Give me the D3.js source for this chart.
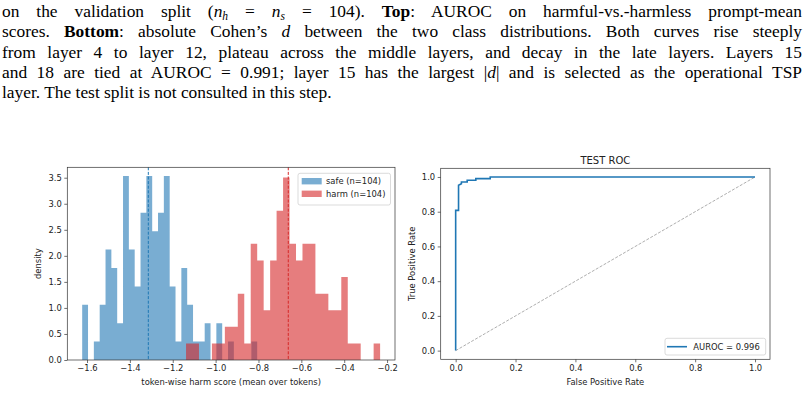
<!DOCTYPE html>
<html>
<head>
<meta charset="utf-8">
<script src="https://cdn.jsdelivr.net/npm/d3@7"></script>
<style>
  body { margin: 0; width: 805px; height: 393px; overflow: hidden; background: #fff; position: relative; }
  #caption { position: absolute; left: 2px; top: 1px; width: 800px; font-family: "Liberation Serif", "Times New Roman", serif; font-size: 17.4px; line-height: 20.3px; color: #000; }
  #caption .ln { text-align: justify; text-align-last: justify; }
  #caption .last { text-align: left; text-align-last: left; }
  #caption i { font-style: italic; }
  #caption sub { font-size: 11.5px; vertical-align: -3px; line-height: 0; }
  svg { position: absolute; left: 0; top: 0; }
  svg text { font-family: "DejaVu Sans", sans-serif; fill: #222; }
</style>
</head>
<body>
<div id="caption">
  <div class="ln">on the validation split (<i>n</i><sub><i>h</i></sub> = <i>n</i><sub><i>s</i></sub> = 104). <b>Top</b>: AUROC on harmful-vs.-harmless prompt-mean</div>
  <div class="ln">scores. <b>Bottom</b>: absolute Cohen’s <i>d</i> between the two class distributions. Both curves rise steeply</div>
  <div class="ln">from layer 4 to layer 12, plateau across the middle layers, and decay in the late layers. Layers 15</div>
  <div class="ln">and 18 are tied at AUROC = 0.991; layer 15 has the largest |<i>d</i>| and is selected as the operational TSP</div>
  <div class="ln last">layer. The test split is not consulted in this step.</div>
</div>
<div id="chart"></div>
<script>
// histogram counts per bin (30 bins each)
const safeCounts = [3,0,1,3,6,5,2,10,6,4,8,10,7,8,10,4,1,5,3,1,1,2,0,2,0,1,0,0,0,1];
const harmCounts = [1,1,0,0,1,1,2,2,4,1,7,6,3,6,9,11,7,6,7,7,4,4,3,3,5,1,1,0,0,1];
const safeRange = [-1.6225, -0.806];
const harmRange = [-1.138, -0.2325];
const safeN = 104, harmN = 104;
const safeMean = -1.314, harmMean = -0.661;
const histXTicks = [-1.6, -1.4, -1.2, -1.0, -0.8, -0.6, -0.4, -0.2];
const histYTicks = [0, 0.5, 1.0, 1.5, 2.0, 2.5, 3.0, 3.5];

// test ROC curve
const fpr = [0, 0, 0.0096, 0.0096, 0.0192, 0.0192, 0.0385, 0.0385, 0.0673, 0.0673, 0.1154, 0.1154, 1.0];
const tpr = [0, 0.8077, 0.8077, 0.9519, 0.9615, 0.9712, 0.9712, 0.9808, 0.9808, 0.9904, 0.9904, 1.0, 1.0];
const rocTicks = [0, 0.2, 0.4, 0.6, 0.8, 1.0];
const auroc = 0.996;

const blue = "#1f77b4", red = "#d62728";
const fs = 8.4;

var svg = d3.select("#chart").append("svg")
    .attr("width", 805)
    .attr("height", 393);

var fmt = d3.format(".1f");

// step outline points: one per bin left edge plus the closing right edge
function stepsOf(counts, range, n) {
  var w = (range[1] - range[0]) / counts.length;
  var pts = counts.map(function(c, i) {
    return {x: range[0] + i * w, d: c / (n * w)};
  });
  pts.push({x: range[1], d: pts[pts.length - 1].d});
  return pts;
}

function frame(g, x0, y0, x1, y1) {
  g.append("rect")
    .attr("x", x0).attr("y", y0)
    .attr("width", x1 - x0).attr("height", y1 - y0)
    .style("fill", "none").style("stroke", "#333").style("stroke-width", 0.7);
}

function styleAxis(g) {
  g.select(".domain").remove();
  g.selectAll(".tick line").style("stroke", "#333").style("stroke-width", 0.7);
  g.selectAll(".tick text").style("font-size", fs + "px").style("fill", "#222")
    .style("font-family", '"DejaVu Sans", sans-serif');
}

// ---------- left: histogram ----------
var hx = d3.scaleLinear().domain([-1.692, -0.163]).range([67.3, 395]);
var hy = d3.scaleLinear().domain([0, 3.70]).range([360, 167.3]);

var hist = svg.append("g");

var area = d3.area()
    .curve(d3.curveStepAfter)
    .x(function(p) { return hx(p.x); })
    .y0(hy(0))
    .y1(function(p) { return hy(p.d); });

[[safeCounts, safeRange, safeN, blue], [harmCounts, harmRange, harmN, red]].forEach(function(s) {
  hist.append("path")
    .datum(stepsOf(s[0], s[1], s[2]))
    .attr("d", area)
    .style("fill", s[3])
    .style("fill-opacity", 0.6)
    .style("stroke", "none");
});

[[safeMean, blue], [harmMean, red]].forEach(function(m) {
  hist.append("line")
    .attr("x1", hx(m[0])).attr("x2", hx(m[0]))
    .attr("y1", hy(3.70)).attr("y2", hy(0))
    .style("stroke", m[1]).style("stroke-width", 1)
    .style("stroke-dasharray", "3,1.6");
});

hist.append("g")
    .attr("transform", "translate(0," + hy(0) + ")")
    .call(d3.axisBottom(hx).tickValues(histXTicks).tickFormat(fmt).tickSize(3).tickPadding(2.5))
    .call(styleAxis);

hist.append("g")
    .attr("transform", "translate(" + hx.range()[0] + ",0)")
    .call(d3.axisLeft(hy).tickValues(histYTicks).tickFormat(fmt).tickSize(3).tickPadding(2.5))
    .call(styleAxis);

frame(hist, 67.3, 167.3, 395, 360);

hist.append("text")
    .attr("x", (67.3 + 395) / 2).attr("y", 384.5)
    .attr("text-anchor", "middle")
    .style("font-size", fs + "px")
    .text("token-wise harm score (mean over tokens)");

hist.append("text")
    .attr("transform", "translate(41," + ((167.3 + 360) / 2) + ") rotate(-90)")
    .attr("text-anchor", "middle")
    .style("font-size", fs + "px")
    .text("density");

// legend
var hl = hist.append("g");
hl.append("rect")
    .attr("x", 298).attr("y", 173.3).attr("width", 92.5).attr("height", 31.7)
    .attr("rx", 2)
    .style("fill", "#fff").style("fill-opacity", 0.8)
    .style("stroke", "#ccc").style("stroke-width", 0.7);
[["safe (n=" + safeN + ")", blue], ["harm (n=" + harmN + ")", red]].forEach(function(e, i) {
  hl.append("rect")
    .attr("x", 301.7).attr("y", 178 + i * 12.6)
    .attr("width", 20).attr("height", 6.4)
    .style("fill", e[1]).style("fill-opacity", 0.6);
  hl.append("text")
    .attr("x", 326).attr("y", 184.3 + i * 12.6)
    .style("font-size", fs + "px")
    .text(e[0]);
});

// ---------- right: ROC ----------
var rx = d3.scaleLinear().domain([-0.05, 1.05]).range([440.7, 770]);
var ry = d3.scaleLinear().domain([-0.05, 1.05]).range([359.3, 168.3]);

var roc = svg.append("g");

roc.append("line")
    .attr("x1", rx(0)).attr("y1", ry(0))
    .attr("x2", rx(1)).attr("y2", ry(1))
    .style("stroke", "#999").style("stroke-width", 0.8)
    .style("stroke-dasharray", "3,1.5");

var line = d3.line()
    .x(function(d, i) { return rx(fpr[i]); })
    .y(function(d, i) { return ry(tpr[i]); });

roc.append("path")
    .datum(fpr)
    .attr("d", line)
    .style("fill", "none")
    .style("stroke", blue)
    .style("stroke-width", 1.6);

roc.append("g")
    .attr("transform", "translate(0," + ry.range()[0] + ")")
    .call(d3.axisBottom(rx).tickValues(rocTicks).tickFormat(fmt).tickSize(3).tickPadding(2.5))
    .call(styleAxis);

roc.append("g")
    .attr("transform", "translate(" + rx.range()[0] + ",0)")
    .call(d3.axisLeft(ry).tickValues(rocTicks).tickFormat(fmt).tickSize(3).tickPadding(2.5))
    .call(styleAxis);

frame(roc, 440.7, 168.3, 770, 359.3);

roc.append("text")
    .attr("x", (440.7 + 770) / 2).attr("y", 163.5)
    .attr("text-anchor", "middle")
    .style("font-size", "10px")
    .text("TEST ROC");

roc.append("text")
    .attr("x", (440.7 + 770) / 2).attr("y", 384.5)
    .attr("text-anchor", "middle")
    .style("font-size", fs + "px")
    .text("False Positive Rate");

roc.append("text")
    .attr("transform", "translate(415," + ((168.3 + 359.3) / 2) + ") rotate(-90)")
    .attr("text-anchor", "middle")
    .style("font-size", fs + "px")
    .text("True Positive Rate");

var rl = roc.append("g");
rl.append("rect")
    .attr("x", 665).attr("y", 338.3).attr("width", 100.7).attr("height", 16.7)
    .attr("rx", 2)
    .style("fill", "#fff").style("fill-opacity", 0.8)
    .style("stroke", "#ccc").style("stroke-width", 0.7);
rl.append("line")
    .attr("x1", 667).attr("x2", 687)
    .attr("y1", 346.7).attr("y2", 346.7)
    .style("stroke", blue).style("stroke-width", 1.6);
rl.append("text")
    .attr("x", 693.3).attr("y", 349.7)
    .style("font-size", fs + "px")
    .text("AUROC = " + auroc.toFixed(3));
</script>
</body>
</html>
